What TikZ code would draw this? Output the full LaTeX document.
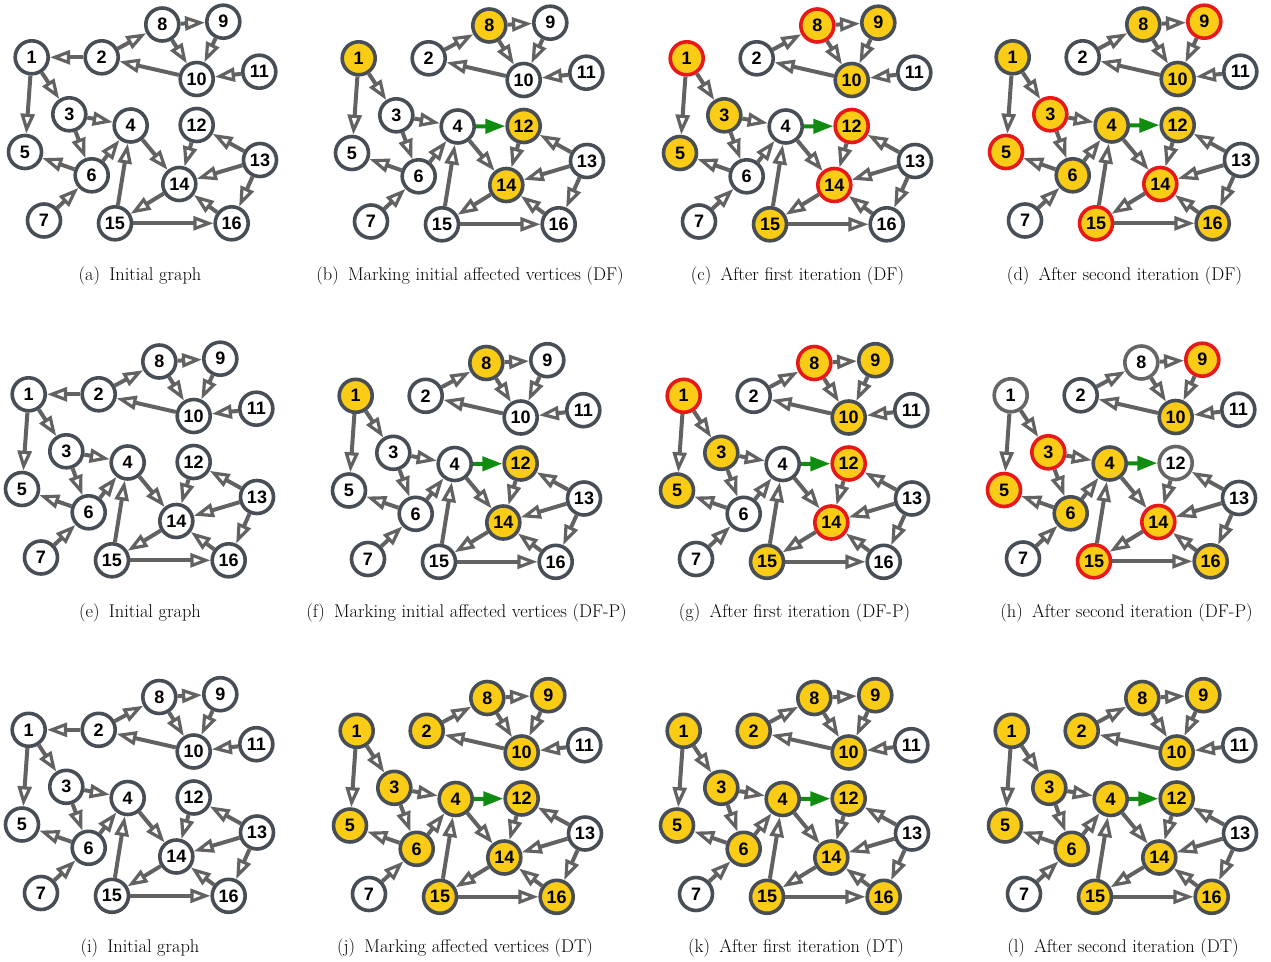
\documentclass[tikz,border=0pt]{standalone}
\usepackage{fontspec}
\setsansfont{Liberation Sans}
\usetikzlibrary{arrows.meta}
\definecolor{edgegray}{RGB}{98,98,98}
\definecolor{nodeborder}{RGB}{72,78,86}
\definecolor{lightborder}{RGB}{102,102,102}
\definecolor{affyellow}{RGB}{250,204,21}
\definecolor{curred}{RGB}{232,24,24}
\definecolor{newgreen}{RGB}{16,140,16}
\tikzset{
  vtx/.style={circle, draw=nodeborder, line width=3.6pt, fill=white,
    minimum size=33pt, inner sep=0pt,
    font=\sffamily\bfseries\fontsize{18}{18}\selectfont},
  aff/.style={fill=affyellow},
  cur/.style={fill=affyellow, draw=curred},
  seen/.style={draw=lightborder},
  edge/.style={draw=edgegray, line width=4pt,
    -{Triangle[open, length=20pt, width=14pt, line width=3.2pt]}},
  newedge/.style={draw=newgreen, line width=4pt,
    -{Triangle[length=20pt, width=14pt]}},
  captext/.style={font=\fontsize{18.4}{18.4}\selectfont, inner sep=0pt}
}
% #1 prefix, #2 x shift, #3 y shift, #4 0 = initial graph, 1 = updated graph, #5 node styles
\newcommand\graphpanel[5]{%
\begin{scope}[shift={(#2,#3)}]
\tikzset{#5}
\node[vtx,v1/.try]  (#1-1)  at (31.7,57.3)  {1};
\node[vtx,v2/.try]  (#1-2)  at (101.7,57.3) {2};
\node[vtx,v3/.try]  (#1-3)  at (69.3,114.3) {3};
\node[vtx,v4/.try]  (#1-4)  at (130.7,125.5) {4};
\node[vtx,v5/.try]  (#1-5)  at (25,152)     {5};
\node[vtx,v6/.try]  (#1-6)  at (91.7,175.3) {6};
\node[vtx,v7/.try]  (#1-7)  at (44,220.5)   {7};
\node[vtx,v8/.try]  (#1-8)  at (162.3,24.5) {8};
\node[vtx,v9/.try]  (#1-9)  at (223.3,21.7) {9};
\node[vtx,v10/.try] (#1-10) at (196.7,79)   {10};
\node[vtx,v11/.try] (#1-11) at (259.3,71.7) {11};
\node[vtx,v12/.try] (#1-12) at (196.7,125)  {12};
\node[vtx,v13/.try] (#1-13) at (260,160)    {13};
\node[vtx,v14/.try] (#1-14) at (179.3,184)  {14};
\node[vtx,v15/.try] (#1-15) at (115,223.3)  {15};
\node[vtx,v16/.try] (#1-16) at (231.7,223.3) {16};
\ifnum#4=0 \draw[edge] (#1-2) -- (#1-1);\fi
\draw[edge] (#1-2) -- (#1-8);
\draw[edge] (#1-8) -- (#1-9);
\draw[edge] (#1-8) -- (#1-10);
\draw[edge] (#1-9) -- (#1-10);
\draw[edge] (#1-10) -- (#1-2);
\draw[edge] (#1-11) -- (#1-10);
\draw[edge] (#1-1) -- (#1-5);
\draw[edge] (#1-1) -- (#1-3);
\draw[edge] (#1-3) -- (#1-4);
\draw[edge] (#1-3) -- (#1-6);
\draw[edge] (#1-6) -- (#1-5);
\draw[edge] (#1-6) -- (#1-4);
\draw[edge] (#1-7) -- (#1-6);
\draw[edge] (#1-4) -- (#1-14);
\draw[edge] (#1-12) -- (#1-14);
\draw[edge] (#1-13) -- (#1-12);
\draw[edge] (#1-13) -- (#1-14);
\draw[edge] (#1-13) -- (#1-16);
\draw[edge] (#1-14) -- (#1-15);
\draw[edge] (#1-16) -- (#1-14);
\draw[edge] (#1-15) -- (#1-4);
\draw[edge] (#1-15) -- (#1-16);
\ifnum#4=1 \draw[newedge] (#1-4) -- (#1-12);\fi
\end{scope}}
\begin{document}
\begin{tikzpicture}[x=1pt,y=-1pt]
\useasboundingbox (0,0) rectangle (1271,961);
% row 1
\graphpanel{a}{0}{0}{0}{}
\graphpanel{b}{327}{1}{1}{v1/.style=aff,v8/.style=aff,v12/.style=aff,v14/.style=aff}
\graphpanel{c}{655}{1}{1}{v1/.style=cur,v8/.style=cur,v12/.style=cur,v14/.style=cur,
  v3/.style=aff,v5/.style=aff,v9/.style=aff,v10/.style=aff,v15/.style=aff}
\graphpanel{d}{981}{0}{1}{v3/.style=cur,v5/.style=cur,v9/.style=cur,v14/.style=cur,v15/.style=cur,
  v1/.style=aff,v4/.style=aff,v6/.style=aff,v8/.style=aff,v10/.style=aff,v12/.style=aff,v16/.style=aff}
% row 2
\graphpanel{e}{-3}{337}{0}{}
\graphpanel{f}{324}{338.5}{1}{v1/.style=aff,v8/.style=aff,v12/.style=aff,v14/.style=aff}
\graphpanel{g}{652}{338.5}{1}{v1/.style=cur,v8/.style=cur,v12/.style=cur,v14/.style=cur,
  v3/.style=aff,v5/.style=aff,v9/.style=aff,v10/.style=aff,v15/.style=aff}
\graphpanel{h}{979}{338}{1}{v3/.style=cur,v5/.style=cur,v9/.style=cur,v14/.style=cur,v15/.style=cur,
  v4/.style=aff,v6/.style=aff,v10/.style=aff,v16/.style=aff,
  v1/.style=seen,v8/.style=seen,v12/.style=seen}
% row 3
\graphpanel{i}{-3}{672.5}{0}{}
\graphpanel{j}{325}{673.5}{1}{v1/.style=aff,v2/.style=aff,v3/.style=aff,v4/.style=aff,v5/.style=aff,
  v6/.style=aff,v8/.style=aff,v9/.style=aff,v10/.style=aff,v12/.style=aff,v14/.style=aff,
  v15/.style=aff,v16/.style=aff}
\graphpanel{k}{652}{673.5}{1}{v1/.style=aff,v2/.style=aff,v3/.style=aff,v4/.style=aff,v5/.style=aff,
  v6/.style=aff,v8/.style=aff,v9/.style=aff,v10/.style=aff,v12/.style=aff,v14/.style=aff,
  v15/.style=aff,v16/.style=aff}
\graphpanel{l}{980}{673.5}{1}{v1/.style=aff,v2/.style=aff,v3/.style=aff,v4/.style=aff,v5/.style=aff,
  v6/.style=aff,v8/.style=aff,v9/.style=aff,v10/.style=aff,v12/.style=aff,v14/.style=aff,
  v15/.style=aff,v16/.style=aff}
% captions
\node[captext] (capa) at (140,276)    {(a)\hspace{0.5em}Initial graph};
\node[captext] (capb) at (470,276)    {(b)\hspace{0.5em}Marking initial affected vertices (DF)};
\node[captext] (capc) at (797.5,276)  {(c)\hspace{0.5em}After first iteration (DF)};
\node[captext] (capd) at (1124.5,276) {(d)\hspace{0.5em}After second iteration (DF)};
\node[captext] (cape) at (140,613)    {(e)\hspace{0.5em}Initial graph};
\node[captext] (capf) at (466.5,613)  {(f)\hspace{0.5em}Marking initial affected vertices (DF-P)};
\node[captext] (capg) at (794.5,613)  {(g)\hspace{0.5em}After first iteration (DF-P)};
\node[captext] (caph) at (1126.5,613) {(h)\hspace{0.5em}After second iteration (DF-P)};
\node[captext] (capi) at (140,948)    {(i)\hspace{0.5em}Initial graph};
\node[captext] (capj) at (465,948)    {(j)\hspace{0.5em}Marking affected vertices (DT)};
\node[captext] (capk) at (796,948)    {(k)\hspace{0.5em}After first iteration (DT)};
\node[captext] (capl) at (1123,948)   {(l)\hspace{0.5em}After second iteration (DT)};
\end{tikzpicture}
\end{document}
